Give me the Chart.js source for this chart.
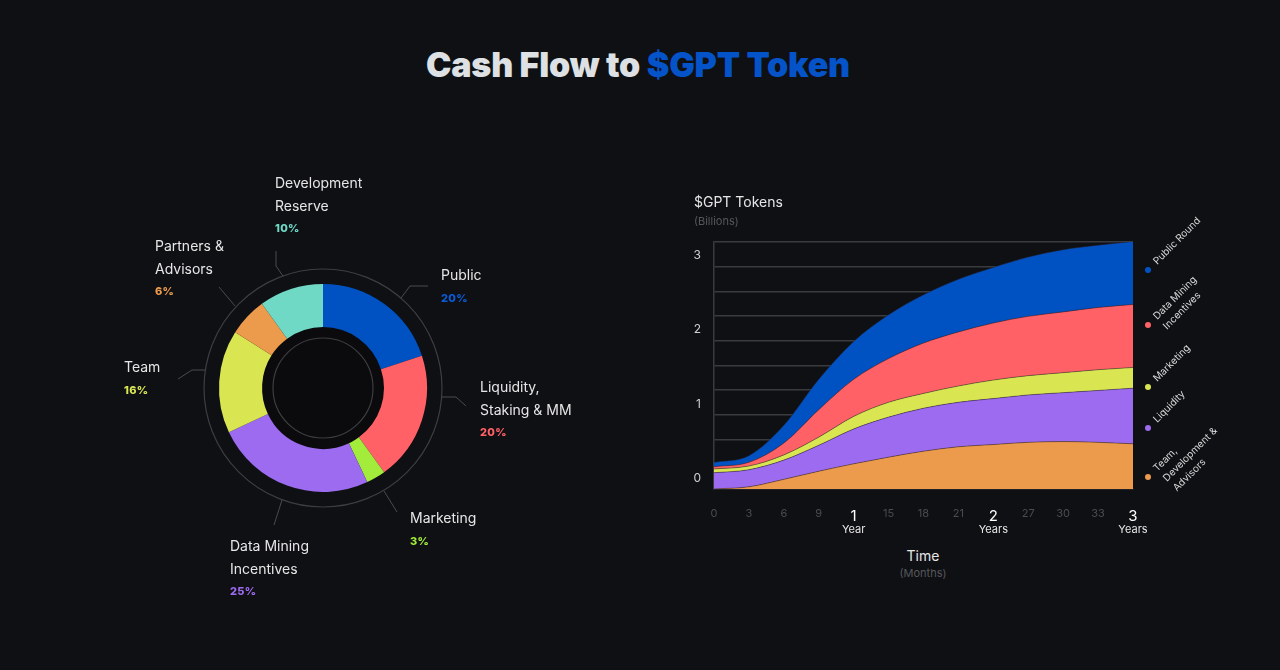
<!DOCTYPE html>
<html>
<head>
<meta charset="utf-8">
<script src="https://cdn.jsdelivr.net/npm/chart.js@4.4.1/dist/chart.umd.min.js"></script>
<style>
  body { margin: 0; background: #0f1014; width: 1280px; height: 670px; overflow: hidden; position: relative; font-family: Inter, "Noto Sans", sans-serif; }
  .title { position: absolute; left: 0; width: 1276px; top: 48px; text-align: center; font-size: 34px; line-height: 34px; font-weight: 900; color: #dde1e4; letter-spacing: -0.2px; }
  .title span { color: #0553c8; }
  .lbl { position: absolute; color: #e6e6e6; font-size: 14px; line-height: 22.5px; white-space: nowrap; }
  .lbl b { display: block; font-size: 11px; font-weight: 800; letter-spacing: 0.3px; }
  .ax { position: absolute; white-space: nowrap; }
  #pieWrap { position: absolute; left: 73px; top: 163px; width: 500px; height: 450px; }
  #areaWrap { position: absolute; left: 680px; top: 190px; width: 560px; height: 355px; }
</style>
</head>
<body>
<div class="title">Cash Flow to <span>$GPT Token</span></div>

<div id="pieWrap"><canvas id="pie" width="500" height="450"></canvas></div>
<div id="areaWrap"><canvas id="area" width="560" height="355"></canvas></div>

<div class="lbl" style="left:275px;top:172px">Development<br>Reserve<b style="color:#6fd9c6">10%</b></div>
<div class="lbl" style="left:155px;top:235px">Partners &amp;<br>Advisors<b style="color:#ec9a4c">6%</b></div>
<div class="lbl" style="left:124px;top:356px">Team<b style="color:#d9e651">16%</b></div>
<div class="lbl" style="left:441px;top:264px">Public<b style="color:#0a5bd6">20%</b></div>
<div class="lbl" style="left:480px;top:376px">Liquidity,<br>Staking &amp; MM<b style="color:#ff6166">20%</b></div>
<div class="lbl" style="left:410px;top:507px">Marketing<b style="color:#a3ec3c">3%</b></div>
<div class="lbl" style="left:230px;top:535px">Data Mining<br>Incentives<b style="color:#9d6bef">25%</b></div>

<div class="ax" style="left:694px;top:193px;font-size:14px;color:#e6e6e6">$GPT Tokens</div>
<div class="ax" style="left:694px;top:214px;font-size:11px;color:#55575b">(Billions)</div>
<div class="ax" style="left:873px;width:100px;text-align:center;top:547px;font-size:14px;color:#e6e6e6">Time</div>
<div class="ax" style="left:873px;width:100px;text-align:center;top:566px;font-size:11px;color:#55575b">(Months)</div>

<script>
// allocation (donut), clockwise from top
const allocLabels = ['Public', 'Liquidity, Staking & MM', 'Marketing', 'Data Mining Incentives', 'Team', 'Partners & Advisors', 'Development Reserve'];
const allocValues = [20, 20, 3, 25, 16, 6, 10];
const allocColors = ['#0052c2', '#ff6166', '#a3ec3c', '#9d6bef', '#d9e651', '#ec9a4c', '#6fd9c6'];

// release schedule, billions of tokens per layer (bottom to top)
const months = [0, 3, 6, 9, 12, 15, 18, 21, 24, 27, 30, 33, 36];
const teamDevAdvisors = [0, 0.03, 0.13, 0.24, 0.34, 0.43, 0.51, 0.57, 0.60, 0.63, 0.64, 0.63, 0.61];
const liquidity = [0.22, 0.23, 0.26, 0.35, 0.47, 0.54, 0.58, 0.60, 0.62, 0.64, 0.66, 0.70, 0.75];
const marketing = [0.05, 0.05, 0.07, 0.11, 0.17, 0.20, 0.20, 0.22, 0.25, 0.26, 0.27, 0.28, 0.28];
const dataMining = [0.03, 0.05, 0.16, 0.37, 0.50, 0.59, 0.68, 0.73, 0.77, 0.80, 0.82, 0.84, 0.85];
const publicRound = [0.06, 0.09, 0.24, 0.41, 0.51, 0.59, 0.65, 0.71, 0.75, 0.80, 0.84, 0.84, 0.85];
const yTickLabels = [0, 1, 2, 3];

// leader lines for the donut labels, offsets from the centre
const leaders = [
  [[78, -90], [87, -102], [105, -102]],
  [[118, 9], [133, 9], [143, 18]],
  [[61, 103], [74, 124]],
  [[-41, 112], [-49, 137]],
  [[-118, -18], [-131, -18], [-145, -9]],
  [[-88, -82], [-104, -101]],
  [[-40, -112], [-47, -122], [-47, -137]],
];

const ringDeco = {
  id: 'ringDeco',
  beforeDatasetsDraw(chart) {
    const a = chart.getDatasetMeta(0).data[0];
    const ctx = chart.ctx;
    ctx.save();
    ctx.strokeStyle = '#3d3e42';
    ctx.lineWidth = 1.2;
    ctx.beginPath(); ctx.arc(a.x, a.y, 119, 0, Math.PI * 2); ctx.stroke();
    ctx.fillStyle = '#0b0b0e';
    ctx.beginPath(); ctx.arc(a.x, a.y, a.innerRadius, 0, Math.PI * 2); ctx.fill();
    ctx.beginPath(); ctx.arc(a.x, a.y, 50, 0, Math.PI * 2); ctx.stroke();
    ctx.strokeStyle = '#4a4b4f';
    ctx.lineWidth = 1;
    leaders.forEach(pts => {
      ctx.beginPath();
      pts.forEach((p, i) => i ? ctx.lineTo(a.x + p[0], a.y + p[1]) : ctx.moveTo(a.x + p[0], a.y + p[1]));
      ctx.stroke();
    });
    ctx.restore();
  }
};

new Chart('pie', {
  type: 'doughnut',
  data: {
    labels: allocLabels,
    datasets: [{ data: allocValues, backgroundColor: allocColors, borderWidth: 0 }]
  },
  options: {
    responsive: false,
    animation: false,
    radius: 104,
    cutout: '58.6%',
    plugins: { legend: { display: false }, tooltip: { enabled: false } }
  },
  plugins: [ringDeco]
});

// legend on the right: label lines, colour, dot offset from chart top
const legendItems = [
  [['Public Round'], '#0052c2', 28],
  [['Data Mining', 'Incentives'], '#ff6166', 83],
  [['Marketing'], '#d9e651', 145],
  [['Liquidity'], '#9d6bef', 186],
  [['Team,', 'Development &', 'Advisors'], '#ec9a4c', 235],
];

const sideDeco = {
  id: 'sideDeco',
  afterDraw(chart) {
    const ctx = chart.ctx, ca = chart.chartArea, xs = chart.scales.x;
    ctx.save();
    legendItems.forEach(([lines, col, dy]) => {
      const x = ca.right + 15, y = ca.top + dy;
      ctx.fillStyle = col;
      ctx.beginPath(); ctx.arc(x, y, 3, 0, Math.PI * 2); ctx.fill();
      ctx.save();
      ctx.translate(x, y);
      ctx.rotate(-Math.PI / 4);
      ctx.fillStyle = '#d6d6d6';
      ctx.font = '10px Inter';
      ctx.textBaseline = 'alphabetic';
      lines.forEach((t, i) => ctx.fillText(t, 10, 3 + i * 14));
      ctx.restore();
    });
    ctx.fillStyle = '#e6e6e6';
    ctx.font = '11px Inter';
    ctx.textAlign = 'center';
    ctx.textBaseline = 'middle';
    months.forEach((m, i) => {
      if (m > 0 && m % 12 === 0) ctx.fillText(m === 12 ? 'Year' : 'Years', xs.getPixelForValue(i), ca.bottom + 41);
    });
    ctx.restore();
  }
};

const isYear = i => months[i] > 0 && months[i] % 12 === 0;
const layer = (label, data, color, fill) => ({
  label, data, fill,
  backgroundColor: color,
  borderColor: 'rgba(40,30,45,0.45)',
  borderWidth: 1,
  pointRadius: 0,
  cubicInterpolationMode: 'monotone'
});

new Chart('area', {
  type: 'line',
  data: {
    labels: months,
    datasets: [
      layer('Team, Development & Advisors', teamDevAdvisors, '#ec9a4c', 'origin'),
      layer('Liquidity', liquidity, '#9d6bef', '-1'),
      layer('Marketing', marketing, '#d9e651', '-1'),
      layer('Data Mining Incentives', dataMining, '#ff6166', '-1'),
      layer('Public Round', publicRound, '#0052c2', '-1'),
    ]
  },
  options: {
    responsive: false,
    animation: false,
    layout: { padding: { top: 52, right: 107, left: 0, bottom: 0 } },
    plugins: { legend: { display: false }, tooltip: { enabled: false } },
    scales: {
      x: {
        offset: false,
        grid: { display: false, drawTicks: false },
        border: { color: '#222327', width: 1.5 },
        afterFit: s => { s.height = 56; },
        ticks: {
          padding: 18,
          maxRotation: 0,
          autoSkip: false,
          callback: (v, i) => isYear(i) ? String(months[i] / 12) : String(months[i]),
          color: c => isYear(c.index) ? '#ffffff' : '#4b4c50',
          font: c => ({ family: 'Inter', size: isYear(c.index) ? 15 : 11 })
        }
      },
      y: {
        stacked: true,
        min: 0,
        max: 10 / 3,
        afterBuildTicks: s => { s.ticks = Array.from({ length: 11 }, (_, k) => ({ value: k / 3 })); },
        afterFit: s => { s.width = 34; },
        grid: { color: '#3a3b3f', lineWidth: 1.5, drawTicks: false },
        border: { color: '#3a3b3f', width: 1.5 },
        ticks: {
          padding: 13,
          autoSkip: false,
          labelOffset: -11,
          color: '#d0d0d0',
          font: { family: 'Inter', size: 12 },
          callback: v => {
            const n = Math.round(v);
            return Math.abs(v - n) < 1e-6 && yTickLabels.includes(n) ? String(n) : '';
          }
        }
      }
    }
  },
  plugins: [sideDeco]
});
</script>
</body>
</html>
